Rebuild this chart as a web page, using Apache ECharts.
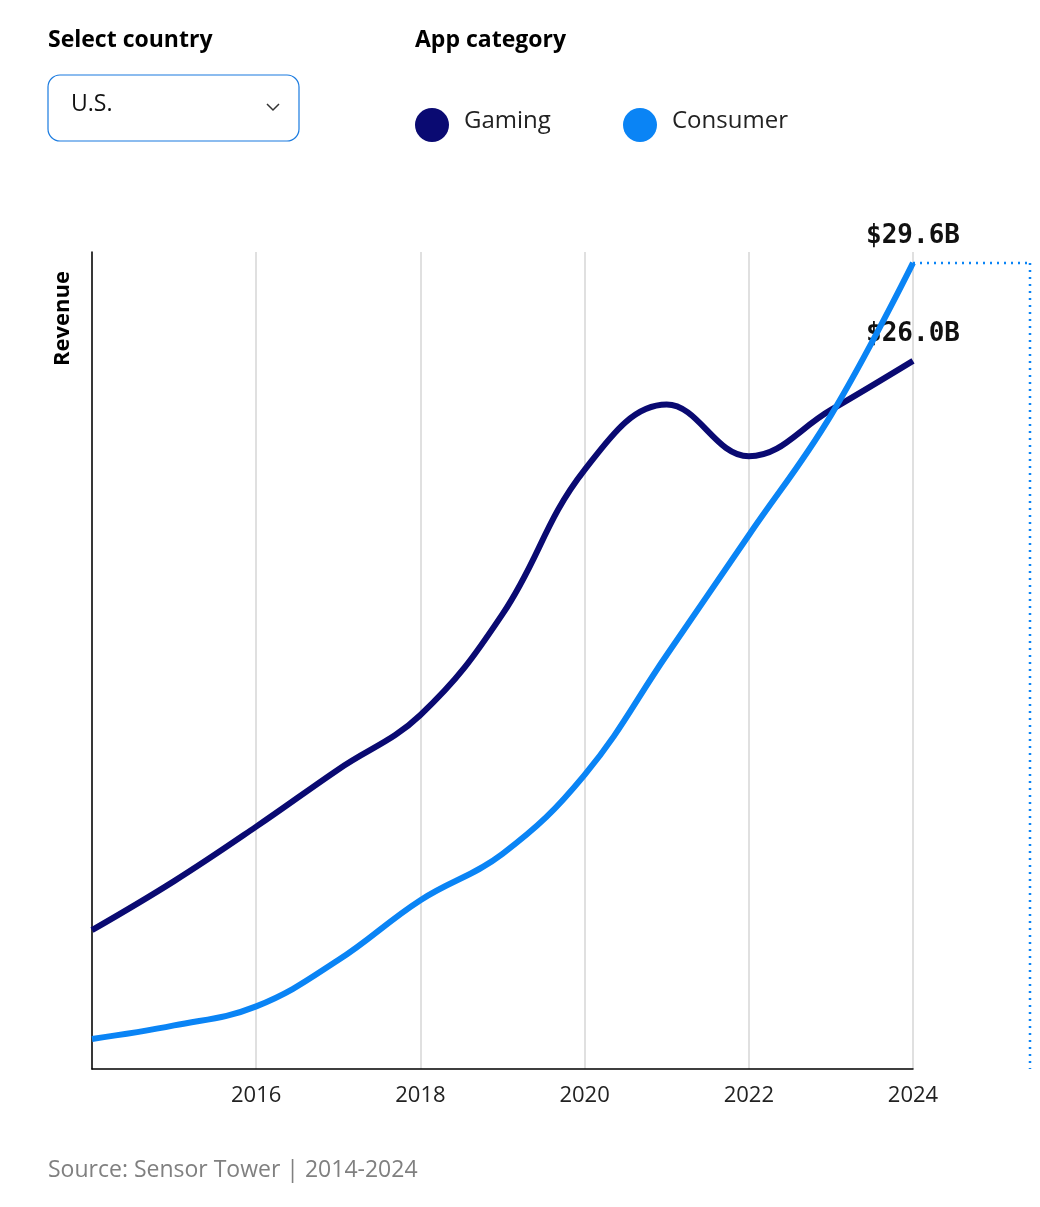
<!DOCTYPE html>
<html>
<head>
<meta charset="utf-8">
<script src="https://cdn.jsdelivr.net/npm/echarts@6/dist/echarts.min.js"></script>
<style>
  html, body { margin: 0; padding: 0; background: #fff; }
  #main { width: 1040px; height: 1207px; }
</style>
</head>
<body>
<div id="main"></div>
<script>
// data, billions USD
var years = [2014, 2015, 2016, 2017, 2018, 2019, 2020, 2021, 2022, 2023, 2024];
var gaming = [5.1, 6.9, 8.9, 11.0, 13.0, 16.7, 22.0, 24.4, 22.5, 24.2, 26.0];
var consumer = [1.1, 1.6, 2.3, 4.0, 6.2, 7.9, 10.8, 15.2, 19.6, 24.0, 29.6];
var xTicks = [2016, 2018, 2020, 2022, 2024];

var font = "'Open Sans', sans-serif";
var labelFont = "'DejaVu Sans Mono', monospace";

function pairs(vals) {
  return years.map(function (y, i) { return [y, vals[i]]; });
}

function lastLabel(vals) {
  return {
    show: true,
    position: 'top',
    distance: 14,
    formatter: function (p) {
      return p.dataIndex === vals.length - 1 ? '$' + vals[p.dataIndex].toFixed(1) + 'B' : '';
    },
    fontFamily: labelFont,
    fontWeight: 'bold',
    fontSize: 26,
    color: '#111'
  };
}

var chart = echarts.init(document.getElementById('main'));

chart.setOption({
  animation: false,
  grid: { left: 92, right: 127, top: 252, bottom: 138 },
  xAxis: {
    type: 'value',
    min: 2014,
    max: 2024,
    interval: 2,
    axisLine: { lineStyle: { color: '#000', width: 1.5 } },
    axisTick: { show: false },
    axisLabel: {
      margin: 16,
      fontFamily: font,
      fontSize: 22,
      color: '#222',
      formatter: function (v) { return xTicks.indexOf(v) >= 0 ? String(v) : ''; }
    },
    splitLine: { show: true, lineStyle: { color: '#d6d6d6', width: 1.5 } }
  },
  yAxis: {
    type: 'value',
    min: 0,
    max: 30,
    axisLine: { show: true, lineStyle: { color: '#000', width: 1.5 } },
    axisTick: { show: false },
    axisLabel: { show: false },
    splitLine: { show: false }
  },
  series: [
    {
      name: 'Gaming',
      type: 'line',
      smooth: 0.4,
      symbol: 'circle',
      symbolSize: 0.1,
      data: pairs(gaming),
      lineStyle: { color: '#0a0a72', width: 6 },
      itemStyle: { color: '#0a0a72' },
      label: lastLabel(gaming),
      z: 2
    },
    {
      name: 'Consumer',
      type: 'line',
      smooth: 0.4,
      symbol: 'circle',
      symbolSize: 0.1,
      data: pairs(consumer),
      lineStyle: { color: '#0a84f5', width: 6 },
      itemStyle: { color: '#0a84f5' },
      label: lastLabel(consumer),
      z: 3
    }
  ]
});

var peak = chart.convertToPixel({ gridIndex: 0 }, [2024, consumer[consumer.length - 1]]);
var baseY = chart.convertToPixel({ gridIndex: 0 }, [2024, 0])[1];
var dotted = { stroke: '#0a84f5', lineWidth: 2.5, lineDash: [2, 5] };

chart.setOption({
  graphic: [
    { type: 'text', left: 48, top: 29, style: { text: 'Select country', font: 'bold 23px ' + font, fill: '#000' } },
    { type: 'rect', shape: { x: 48, y: 75, width: 251, height: 66, r: 12 },
      style: { fill: '#fff', stroke: '#1a7be0', lineWidth: 1.2 } },
    { type: 'text', left: 71, top: 93, style: { text: 'U.S.', font: '23px ' + font, fill: '#111' } },
    { type: 'polyline', shape: { points: [[267, 104], [273, 110], [279, 104]] },
      style: { stroke: '#333', lineWidth: 1.5, fill: null } },
    { type: 'text', left: 415, top: 29, style: { text: 'App category', font: 'bold 23px ' + font, fill: '#000' } },
    { type: 'circle', shape: { cx: 432, cy: 125, r: 17 }, style: { fill: '#0a0a72' } },
    { type: 'text', left: 464, top: 109, style: { text: 'Gaming', font: '24px ' + font, fill: '#222' } },
    { type: 'circle', shape: { cx: 640, cy: 125, r: 17 }, style: { fill: '#0a84f5' } },
    { type: 'text', left: 672, top: 109, style: { text: 'Consumer', font: '24px ' + font, fill: '#222' } },
    { type: 'text', x: 52, y: 366, rotation: Math.PI / 2,
      style: { text: 'Revenue', font: 'bold 22px ' + font, fill: '#000', align: 'left', verticalAlign: 'top' } },
    { type: 'line', shape: { x1: peak[0], y1: peak[1], x2: 1030, y2: peak[1] }, style: dotted },
    { type: 'line', shape: { x1: 1030, y1: peak[1], x2: 1030, y2: baseY }, style: dotted },
    { type: 'text', left: 48, top: 1159, style: { text: 'Source: Sensor Tower | 2014-2024', font: '23px ' + font, fill: '#808080' } }
  ]
});
</script>
</body>
</html>
